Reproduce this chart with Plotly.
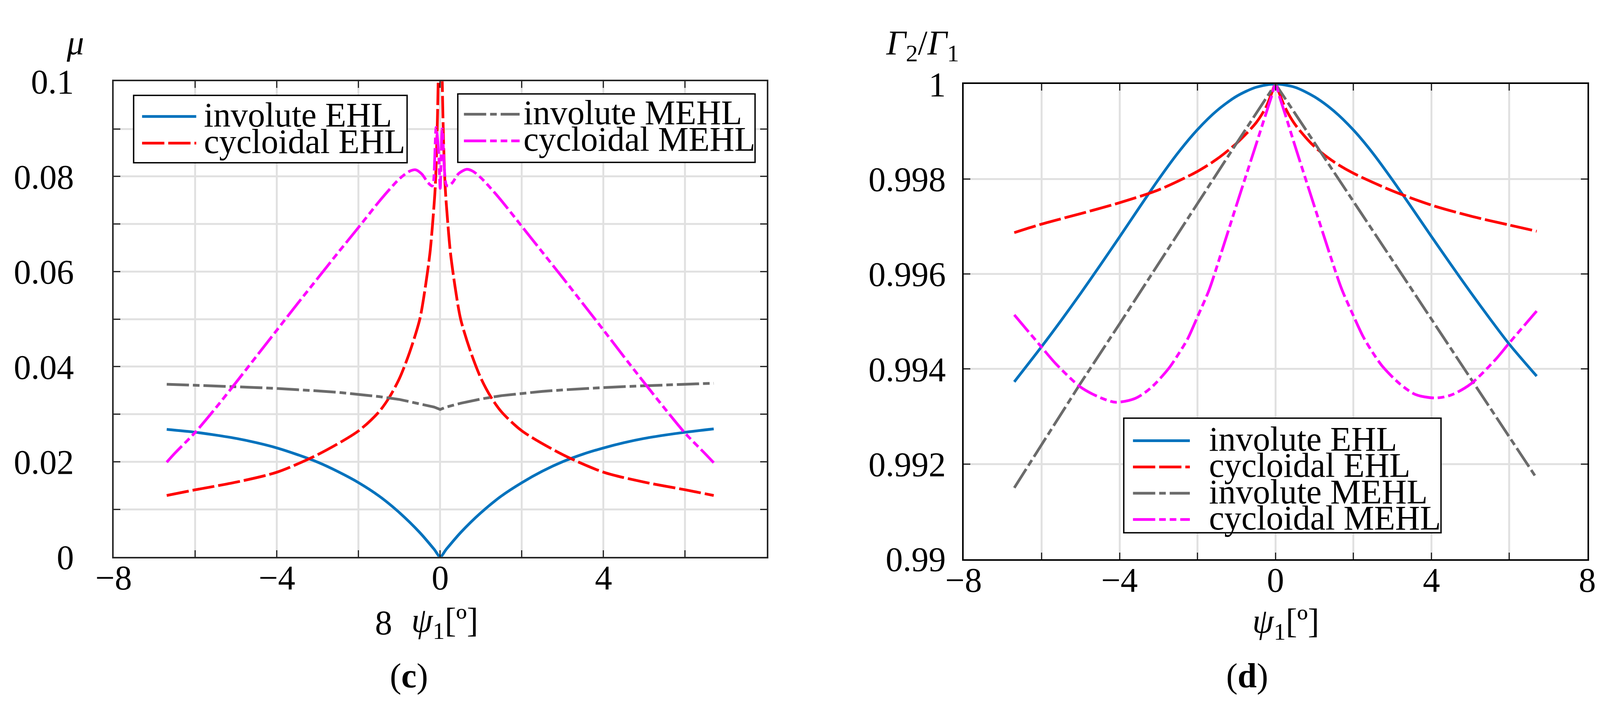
import plotly.graph_objects as go

# ---- data (c): friction coefficient mu vs psi1 ----
psi_inv_c = [-6.7, -6, -5.5, -5, -4.5, -4, -3.5, -3, -2.5, -2, -1.5, -1, -0.5, -0.15, 0,
             0.15, 0.5, 1, 1.5, 2, 2.5, 3, 3.5, 4, 4.5, 5, 5.5, 6, 6.7]
mu_inv_ehl = [0.0268, 0.0262, 0.0256, 0.0249, 0.0240, 0.0229, 0.0215, 0.0199, 0.0179, 0.0156, 0.0128, 0.0093, 0.0051, 0.0016, 0.0,
              0.0016, 0.0051, 0.0093, 0.0128, 0.0156, 0.0180, 0.0200, 0.0216, 0.0229, 0.0240, 0.0249, 0.0256, 0.0262, 0.0269]
mu_inv_mehl = [0.0363, 0.0361, 0.0360, 0.0358, 0.0356, 0.0354, 0.0352, 0.0349, 0.0346, 0.0342, 0.0337, 0.0331, 0.0322, 0.0315, 0.0310,
               0.0315, 0.0323, 0.0332, 0.0339, 0.0344, 0.0348, 0.0351, 0.0354, 0.0356, 0.0358, 0.0360, 0.0362, 0.0363, 0.0365]

psi_cyc_ehl_c = [-6.7, -6, -5, -4, -3, -2, -1.5, -1.25, -1, -0.75, -0.5, -0.36, -0.25, -0.19, -0.12, -0.08, -0.05, 0,
                 0.05, 0.08, 0.12, 0.19, 0.25, 0.36, 0.5, 0.75, 1, 1.25, 1.5, 2, 3, 4, 5, 6, 6.7]
mu_cyc_ehl = [0.0129, 0.0141, 0.0157, 0.0178, 0.0215, 0.0265, 0.0305, 0.0335, 0.0375, 0.0430, 0.0500, 0.0570, 0.0640, 0.0697, 0.0780, 0.0880, 0.1000, 0.1400,
              0.1000, 0.0880, 0.0780, 0.0697, 0.0640, 0.0570, 0.0500, 0.0430, 0.0375, 0.0335, 0.0305, 0.0265, 0.0215, 0.0178, 0.0157, 0.0141, 0.0129]

psi_cyc_mehl_c = [-6.7, -6.5, -6, -5.5, -5, -4.5, -4, -3.5, -3, -2.5, -2, -1.5, -1.25, -1, -0.75, -0.6, -0.45, -0.3, -0.2, -0.17,
                  -0.1, -0.04, 0, 0.05, 0.15, 0.2, 0.3, 0.45, 0.65, 0.8, 1, 1.25, 1.5, 2, 2.5, 3, 3.5, 4, 4.5, 5, 5.5, 6, 6.5, 6.7]
mu_cyc_mehl = [0.0199, 0.0218, 0.0262, 0.0313, 0.0367, 0.0422, 0.0477, 0.0532, 0.0586, 0.0640, 0.0693, 0.0747, 0.0772, 0.0795, 0.0811, 0.0814, 0.0805, 0.0787, 0.0780, 0.0785,
               0.0903, 0.0850, 0.0775, 0.0900, 0.0782, 0.0780, 0.0787, 0.0806, 0.0815, 0.0811, 0.0797, 0.0774, 0.0749, 0.0695, 0.0641, 0.0587, 0.0532, 0.0477, 0.0421, 0.0366, 0.0312, 0.0260, 0.0216, 0.0198]

# ---- data (d): Gamma2/Gamma1 vs psi1 ----
psi_ehl_d = [-6.7, -6, -5.5, -5, -4.5, -4, -3.5, -3, -2.5, -2, -1.5, -1, -0.5, 0,
             0.5, 1, 1.5, 2, 2.5, 3, 3.5, 4, 4.5, 5, 5.5, 6, 6.7]
g_inv_ehl = [0.99373, 0.99447, 0.99502, 0.99559, 0.99618, 0.99678, 0.99739, 0.99799, 0.99855, 0.99904, 0.99944, 0.99974, 0.99993, 1.0,
             0.99993, 0.99973, 0.99943, 0.99903, 0.99854, 0.99798, 0.99739, 0.99679, 0.99620, 0.99562, 0.99506, 0.99452, 0.99385]

psi_cyc_ehl_d = [-6.7, -6, -5, -4, -3, -2, -1.5, -1, -0.5, -0.25, -0.1, 0, 0.1, 0.25, 0.5, 1, 1.5, 2, 3, 4, 5, 6, 6.7]
g_cyc_ehl = [0.99687, 0.99705, 0.99727, 0.99750, 0.99777, 0.99816, 0.99842, 0.99875, 0.99918, 0.99950, 0.99980, 1.0,
             0.99980, 0.99950, 0.99915, 0.99868, 0.99836, 0.99812, 0.99775, 0.99745, 0.99722, 0.99703, 0.99690]

psi_inv_mehl_d = [-6.7, -6, -5, -4, -3, -2, -1, 0, 1, 2, 3, 4, 5, 6, 6.7]
g_inv_mehl = [0.99150, 0.99240, 0.99370, 0.99495, 0.99622, 0.99749, 0.99875, 1.0,
              0.99877, 0.99753, 0.99629, 0.99505, 0.99381, 0.99257, 0.99170]

psi_cyc_mehl_d = [-6.7, -6, -5.645, -5, -4.5, -4.1, -3.6, -3.2, -2.75, -2.5, -2.25, -2, -1.7, -1.4, -1, -0.5, -0.25, -0.1, 0,
                  0.1, 0.25, 0.5, 1, 1.4, 1.7, 2, 2.25, 2.5, 2.75, 3.2, 3.6, 4.1, 4.5, 5, 5.645, 6, 6.7]
g_cyc_mehl = [0.99514, 0.99446, 0.99412, 0.99362, 0.99340, 0.99330, 0.99338, 0.99360, 0.99400, 0.99430, 0.99464, 0.99510, 0.99567, 0.99642, 0.99745, 0.99872, 0.99936, 0.99974, 1.0,
              0.99974, 0.99936, 0.99870, 0.99742, 0.99640, 0.99568, 0.99512, 0.99468, 0.99434, 0.99405, 0.99368, 0.99346, 0.99339, 0.99345, 0.99368, 0.99420, 0.99455, 0.99522]

names = ["involute EHL", "cycloidal EHL", "involute MEHL", "cycloidal MEHL"]

# ---- styles ----
W, H = 4112, 1820
FONT = "Liberation Serif"
FS = 88
colors = ["#0072BD", "#FF0000", "#6b6b6b", "#FF00FF"]
dashes = ["solid", "57px,10px", "57px,10px,17px,10px", "57px,10px,17px,10px,17px,10px"]
shapes_of_line = ["spline", "spline", "linear", "spline"]
LW = 7


def px(X):
    return (X - 8) / W


def py(Y):
    return 1 - (Y - 8) / H


fig = go.Figure()

series_c = [(psi_inv_c, mu_inv_ehl), (psi_cyc_ehl_c, mu_cyc_ehl),
            (psi_inv_c, mu_inv_mehl), (psi_cyc_mehl_c, mu_cyc_mehl)]
series_d = [(psi_ehl_d, g_inv_ehl), (psi_cyc_ehl_d, g_cyc_ehl),
            (psi_inv_mehl_d, g_inv_mehl), (psi_cyc_mehl_d, g_cyc_mehl)]

for i, (xs, ys) in enumerate(series_c):
    fig.add_trace(go.Scatter(x=xs, y=ys, mode="lines", name=names[i], showlegend=False,
                             line=dict(color=colors[i], width=LW, dash=dashes[i],
                                       shape=shapes_of_line[i], smoothing=0.8),
                             xaxis="x", yaxis="y"))
for i, (xs, ys) in enumerate(series_d):
    fig.add_trace(go.Scatter(x=xs, y=ys, mode="lines", name=names[i], showlegend=False,
                             line=dict(color=colors[i], width=LW, dash=dashes[i],
                                       shape=shapes_of_line[i], smoothing=0.8),
                             xaxis="x2", yaxis="y2"))

axis_common = dict(showline=True, linewidth=4, mirror="ticks", ticks="inside",
                   ticklen=17, tickwidth=3, showgrid=True, gridcolor="#e1e1e1",
                   gridwidth=5, zeroline=False,
                   tickfont=dict(family=FONT, size=FS, color="black"))

minor_common = dict(ticks="inside", ticklen=17, tickwidth=3, showgrid=True,
                    gridcolor="#e1e1e1", gridwidth=5)

fig.update_layout(
    width=W, height=H, autosize=False,
    margin=dict(l=0, r=0, t=0, b=0),
    paper_bgcolor="white", plot_bgcolor="white",
    font=dict(family=FONT, size=FS, color="black"),
    xaxis=dict(domain=[px(248), px(1948.5)], range=[-8, 8], anchor="y",
               tickmode="array", tickvals=[-8, -4, 0, 4], ticktext=["−8", "−4", "0", "4"],
               minor=dict(tickmode="array", tickvals=[-6, -2, 2, 6], **minor_common),
               linecolor="#262626", tickcolor="#262626", ticklabelstandoff=-26,
               **axis_common),
    yaxis=dict(domain=[py(1456), py(170)], range=[0, 0.1], anchor="x",
               tickmode="array", tickvals=[0, 0.02, 0.04, 0.06, 0.08, 0.1],
               ticktext=["0", "0.02", "0.04", "0.06", "0.08", "0.1"],
               minor=dict(tickmode="array", tickvals=[0.01, 0.03, 0.05, 0.07, 0.09], **minor_common),
               linecolor="#262626", tickcolor="#262626", ticklabelstandoff=80,
               **axis_common),
    xaxis2=dict(domain=[px(2461), px(4085)], range=[-8, 8], anchor="y2",
                tickmode="array", tickvals=[-8, -4, 0, 4, 8], ticktext=["−8", "−4", "0", "4", "8"],
                minor=dict(tickmode="array", tickvals=[-6, -2, 2, 6], **minor_common),
                linecolor="black", tickcolor="#262626", ticklabelstandoff=-26,
                **axis_common),
    yaxis2=dict(domain=[py(1462), py(177)], range=[0.99, 1.0], anchor="x2",
                tickmode="array", tickvals=[0.99, 0.992, 0.994, 0.996, 0.998, 1.0],
                ticktext=["0.99", "0.992", "0.994", "0.996", "0.998", "1"],
                linecolor="black", tickcolor="#262626", ticklabelstandoff=24,
                **axis_common),
)

# ---- hand-drawn legends (boxes, samples, labels) ----
legends = [
    # box x0, x1, y0, y1, sample x0, x1, text x, rows [(series index, y)]
    (300, 1012, 208, 390, 322, 463, 481, [(0, 265), (1, 337)]),
    (1144, 1918, 204, 389, 1160, 1305, 1313, [(2, 259), (3, 331)]),
    (2878, 3704, 1081, 1391, 2902, 3050, 3098, [(0, 1142), (1, 1213), (2, 1284), (3, 1355)]),
]
shapes = []
annotations = []
for bx0, bx1, by0, by1, sx0, sx1, tx, rows in legends:
    shapes.append(dict(type="rect", xref="paper", yref="paper", layer="above",
                       x0=px(bx0), x1=px(bx1), y0=py(by1), y1=py(by0),
                       fillcolor="white", line=dict(color="black", width=3.5)))
    for idx, yy in rows:
        shapes.append(dict(type="line", xref="paper", yref="paper", layer="above",
                           x0=px(sx0), x1=px(sx1), y0=py(yy), y1=py(yy),
                           line=dict(color=colors[idx], width=LW, dash=dashes[idx])))
        annotations.append(dict(text=names[idx], xref="paper", yref="paper",
                                x=px(tx), y=py(yy - 4), xanchor="left", yanchor="middle",
                                showarrow=False, font=dict(family=FONT, size=FS)))


def label(text, X, Y, size=FS):
    annotations.append(dict(text=text, xref="paper", yref="paper", x=px(X), y=py(Y),
                            xanchor="center", yanchor="middle", showarrow=False,
                            font=dict(family=FONT, size=size, color="black")))


label("<i>μ</i>", 148, 66)
label("<i>Γ</i><sub>2</sub>/<i>Γ</i><sub>1</sub>", 2354, 72)
label("8", 951, 1634)
label("<i>ψ</i><sub>1</sub>[º]", 1110, 1634)
label("<i>ψ</i><sub>1</sub>[º]", 3300, 1636)
label("(<b>c</b>)", 1017, 1778)
label("(<b>d</b>)", 3200, 1778)

fig.update_layout(shapes=shapes, annotations=annotations)

fig.write_html("out.html")
